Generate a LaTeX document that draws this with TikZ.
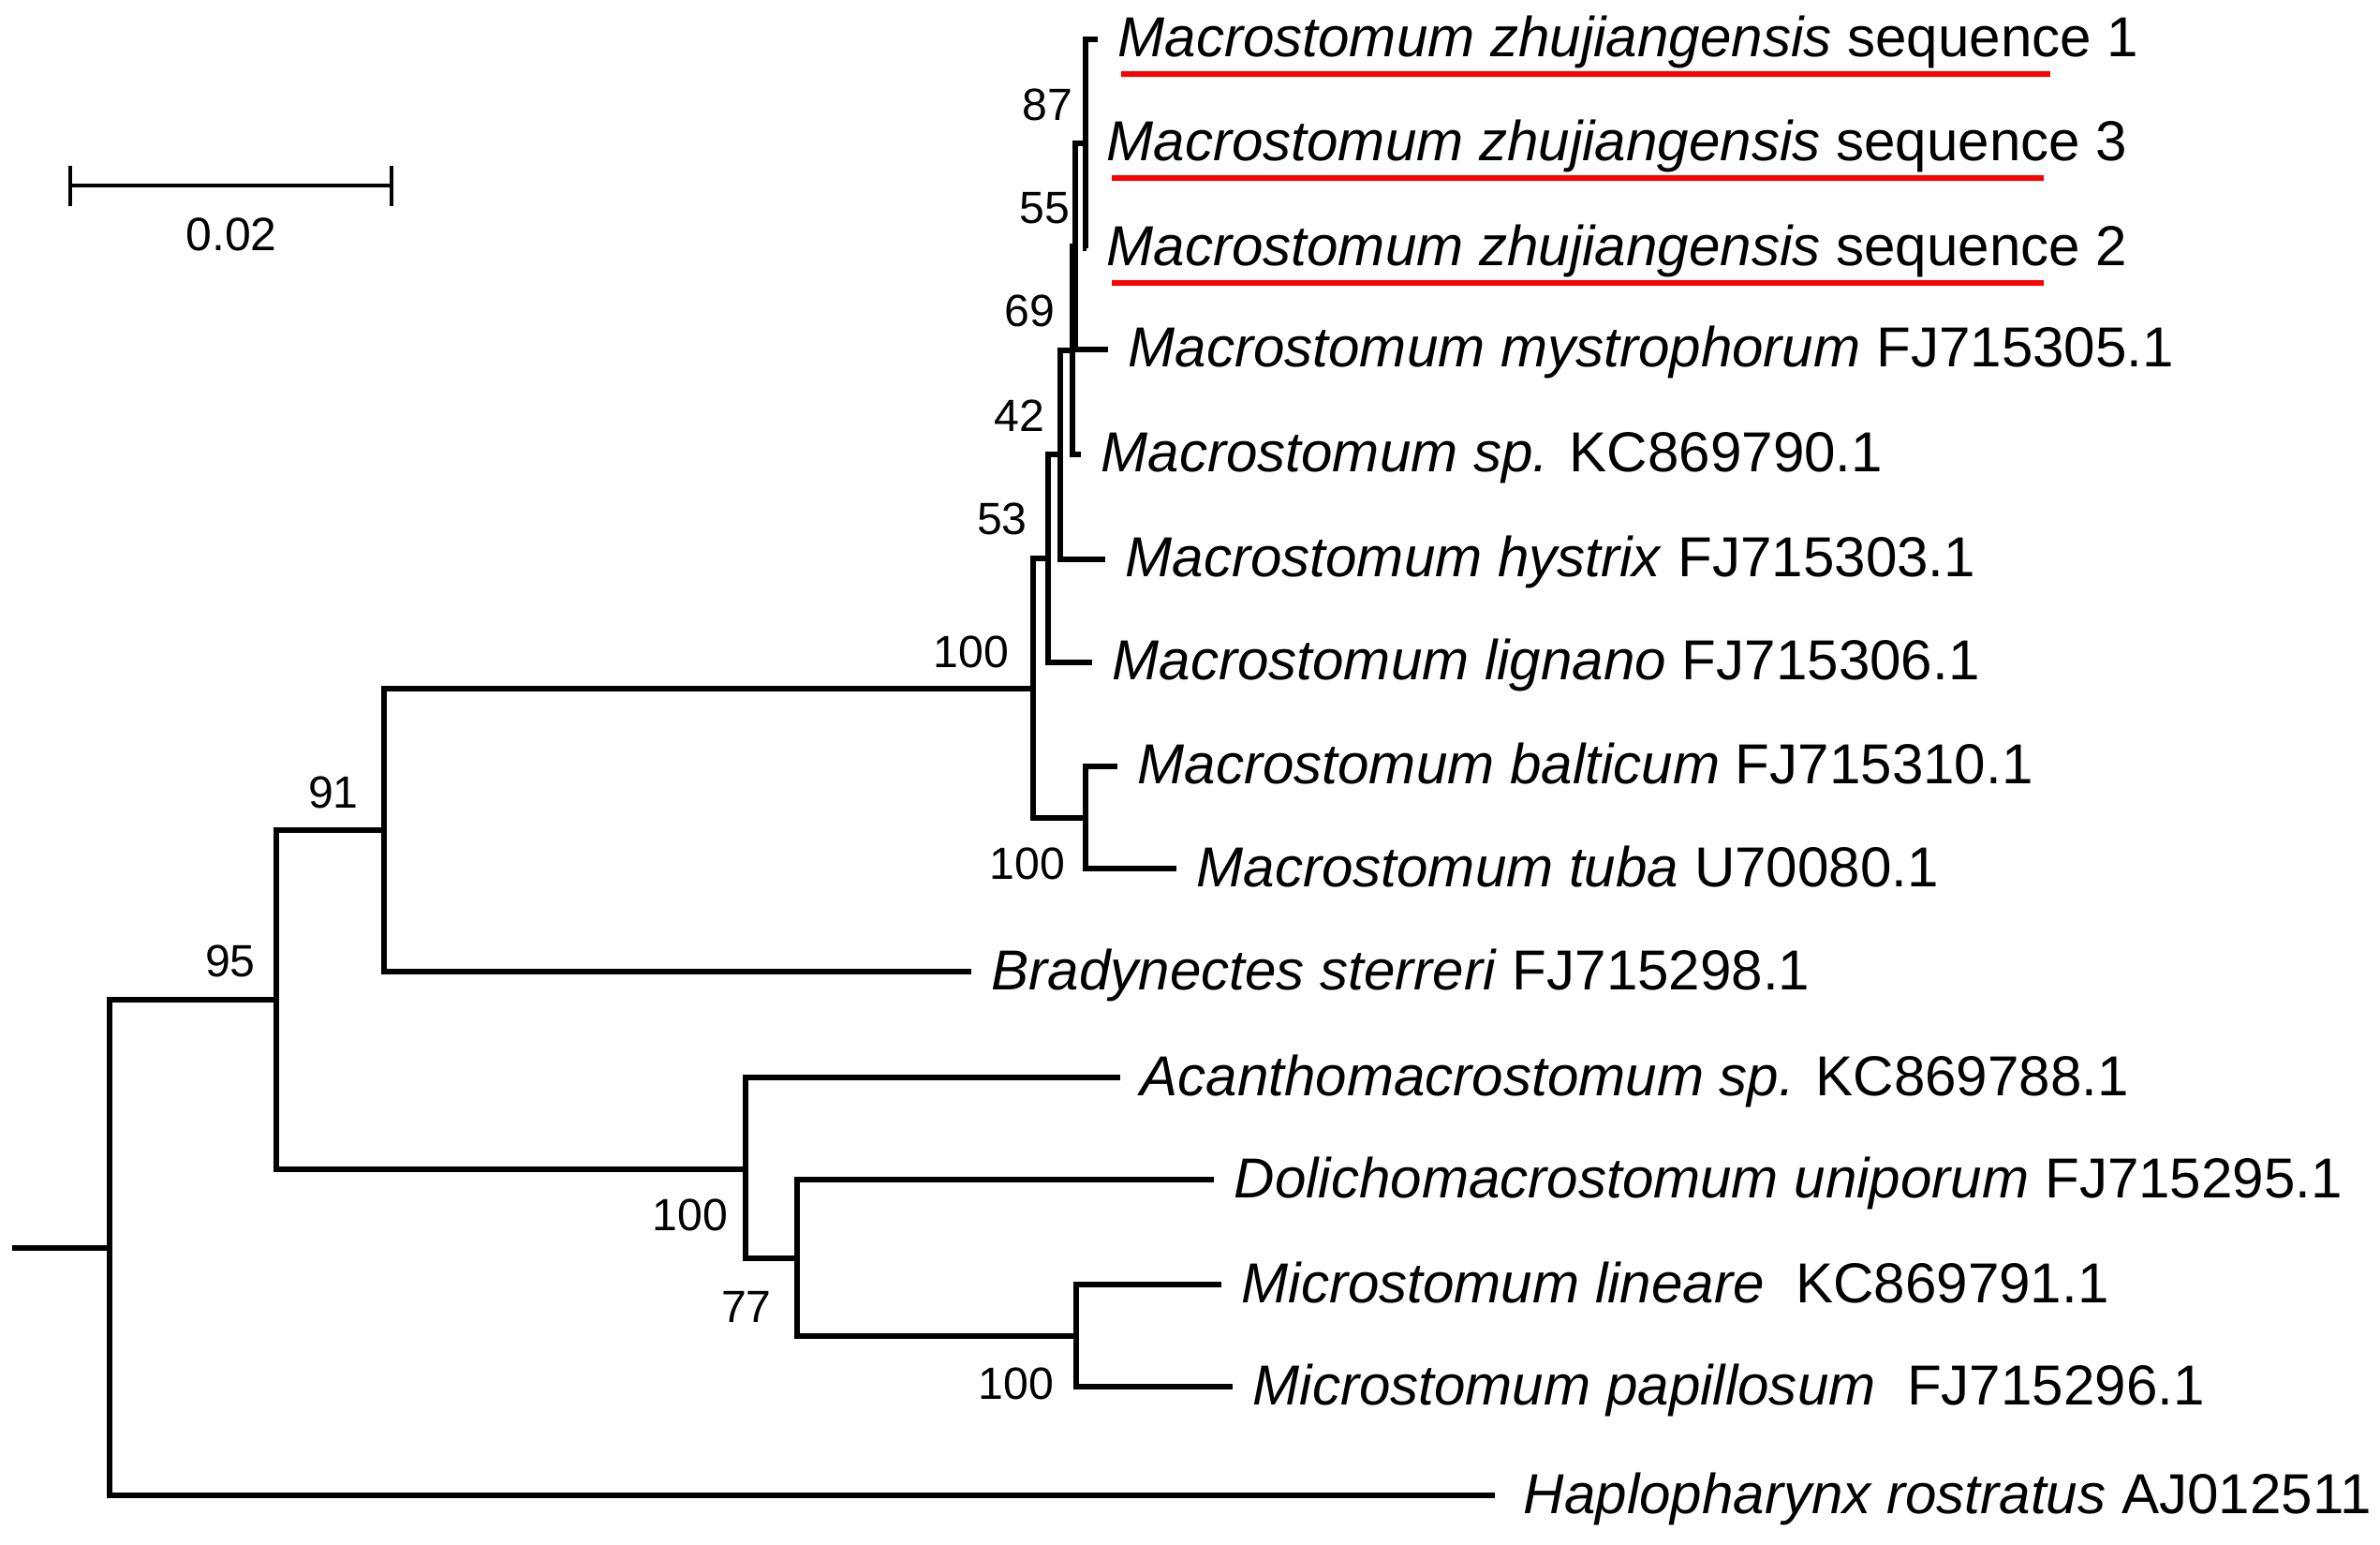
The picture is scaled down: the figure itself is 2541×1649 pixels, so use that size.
\documentclass[tikz,border=0pt]{standalone}
\usepackage{fontspec}
\setmainfont{Liberation Sans}
\begin{document}
\begin{tikzpicture}[x=0.01cm,y=-0.01cm,
  branch/.style={line width=1.5pt},
  taxon/.style={anchor=base west,inner sep=0pt,shift={(21,19)},font=\fontsize{17.1pt}{20pt}\selectfont},
  boot/.style={inner sep=0pt,font=\fontsize{13.7pt}{16pt}\selectfont},
  redline/.style={red,line width=1.7pt},
  scalebar/.style={line width=1.3pt}]
\useasboundingbox (0,0) rectangle (2541,1649);

% scale bar
\coordinate (sbl) at (75,198);
\coordinate (sbr) at (418,198);
\draw[scalebar] (sbl) -- (sbr);
\draw[scalebar] ([shift={(0,-21)}]sbl) -- ([shift={(0,22)}]sbl);
\draw[scalebar] ([shift={(0,-21)}]sbr) -- ([shift={(0,22)}]sbr);
\node[boot,font=\fontsize{14.2pt}{16pt}\selectfont] (sblab) at (247,250) {0.02};

% tips
\coordinate (t1) at (1172,42);
\coordinate (t3) at (1160,153);
\coordinate (t2) at (1160,265);
\coordinate (tmy) at (1183,373);
\coordinate (tsp) at (1154,485);
\coordinate (thy) at (1180,597);
\coordinate (tli) at (1166,707);
\coordinate (tba) at (1193,818);
\coordinate (ttu) at (1256,927);
\coordinate (tbr) at (1037,1037);
\coordinate (tac) at (1196,1150);
\coordinate (tdo) at (1296,1259);
\coordinate (tln) at (1304,1371);
\coordinate (tpa) at (1316,1480);
\coordinate (tha) at (1596,1596);

% internal nodes
\coordinate (n87) at (1159,153);
\coordinate (n55) at (1148,263);
\coordinate (n69) at (1145,374);
\coordinate (n42) at (1132,485);
\coordinate (n53) at (1119,596);
\coordinate (n100a) at (1103,735);
\coordinate (n100b) at (1159,873);
\coordinate (n91) at (410,886);
\coordinate (n100c) at (796,1248);
\coordinate (n77) at (851,1343);
\coordinate (n100d) at (1149,1426);
\coordinate (n95) at (295,1067);
\coordinate (root) at (117,1332);
\coordinate (base) at (13,1332);

% branches
\draw[branch] (n87) |- (t1);
\draw[branch] (n87) |- (t2);
\draw[branch] (n55) |- (n87);
\draw[branch] (n55) |- (tmy);
\draw[branch] (n69) |- (n55);
\draw[branch] (n69) |- (tsp);
\draw[branch] (n42) |- (n69);
\draw[branch] (n42) |- (thy);
\draw[branch] (n53) |- (n42);
\draw[branch] (n53) |- (tli);
\draw[branch] (n100a) |- (n53);
\draw[branch] (n100a) |- (n100b);
\draw[branch] (n100b) |- (tba);
\draw[branch] (n100b) |- (ttu);
\draw[branch] (n91) |- (n100a);
\draw[branch] (n91) |- (tbr);
\draw[branch] (n100c) |- (tac);
\draw[branch] (n100c) |- (n77);
\draw[branch] (n77) |- (tdo);
\draw[branch] (n77) |- (n100d);
\draw[branch] (n100d) |- (tln);
\draw[branch] (n100d) |- (tpa);
\draw[branch] (n95) |- (n91);
\draw[branch] (n95) |- (n100c);
\draw[branch] (root) |- (n95);
\draw[branch] (root) |- (tha);
\draw[branch] (base) -- (root);

% taxon names
\node[taxon] (l1) at (t1) {\textit{Macrostomum zhujiangensis} sequence 1};
\node[taxon] (l3) at (t3) {\textit{Macrostomum zhujiangensis} sequence 3};
\node[taxon] (l2) at (t2) {\textit{Macrostomum zhujiangensis} sequence 2};
\node[taxon] (lmy) at (tmy) {\textit{Macrostomum mystrophorum} FJ715305.1};
\node[taxon] (lsp) at (tsp) {\textit{Macrostomum sp.} KC869790.1};
\node[taxon] (lhy) at (thy) {\textit{Macrostomum hystrix} FJ715303.1};
\node[taxon] (lli) at (tli) {\textit{Macrostomum lignano} FJ715306.1};
\node[taxon] (lba) at (tba) {\textit{Macrostomum balticum} FJ715310.1};
\node[taxon] (ltu) at (ttu) {\textit{Macrostomum tuba} U70080.1};
\node[taxon] (lbr) at (tbr) {\textit{Bradynectes sterreri} FJ715298.1};
\node[taxon] (lac) at (tac) {\textit{Acanthomacrostomum sp.} KC869788.1};
\node[taxon] (ldo) at (tdo) {\textit{Dolichomacrostomum uniporum} FJ715295.1};
\node[taxon] (lln) at (tln) {\textit{Microstomum lineare}\ \ KC869791.1};
\node[taxon] (lpa) at (tpa) {\textit{Microstomum papillosum}\ \ FJ715296.1};
\node[taxon] (lha) at ([xshift=0.09cm]tha) {\textit{Haplopharynx rostratus} AJ012511};

\draw[redline] ([shift={(4,18)}]l1.base west) -- ++(992,0);
\draw[redline] ([shift={(6,18)}]l3.base west) -- ++(995,0);
\draw[redline] ([shift={(6,18)}]l2.base west) -- ++(995,0);

% bootstrap values
\node[boot] (b87) at (1118,112) {87};
\node[boot] (b55) at (1115,222) {55};
\node[boot] (b69) at (1099,332) {69};
\node[boot] (b42) at (1088,444) {42};
\node[boot] (b53) at (1070,554) {53};
\node[boot] (b100a) at (1037,696) {100};
\node[boot] (b100b) at (1097,922) {100};
\node[boot] (b91) at (356,846) {91};
\node[boot] (b95) at (246,1026) {95};
\node[boot] (b100c) at (737,1297) {100};
\node[boot] (b77) at (797,1395) {77};
\node[boot] (b100d) at (1085,1477) {100};
\end{tikzpicture}
\end{document}
